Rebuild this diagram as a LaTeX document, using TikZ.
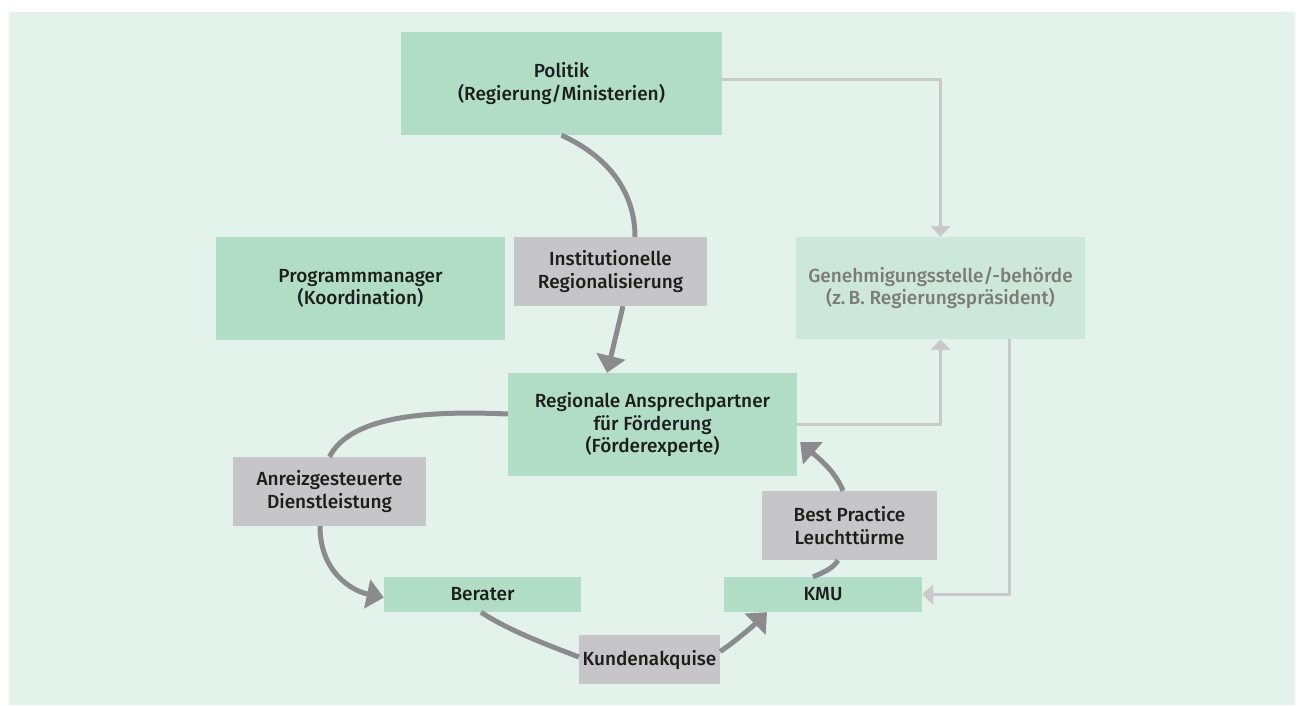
\documentclass[tikz,border=0pt]{standalone}
\usepackage{fontspec}
\setmainfont{Fira Sans}[UprightFont=* Medium]
\usetikzlibrary{arrows.meta}
\definecolor{panelc}{HTML}{E4F2EC}
\definecolor{greenc}{HTML}{B1DDC7}
\definecolor{palec}{HTML}{CDE7DA}
\definecolor{greyc}{HTML}{C6C6C8}
\definecolor{flowc}{HTML}{8B8B8D}
\definecolor{lightc}{HTML}{C9C9CC}
\definecolor{textc}{HTML}{1D1D1B}
\definecolor{paletext}{HTML}{7B7B7B}
\tikzset{
  box/.style={rectangle, inner sep=0pt, align=center, text=textc,
    font=\fontsize{19}{22.7}\selectfont},
  gbox/.style={box, fill=greenc},
  pbox/.style={box, fill=palec, text=paletext},
  ybox/.style={box, fill=greyc},
  flow/.style={draw=flowc, line width=5pt},
  flowarrow/.style={flow, -{Triangle[length=17pt,width=29pt]}},
  light/.style={draw=lightc, line width=3pt, -{Triangle[length=11pt,width=20pt]}}
}
\begin{document}
\begin{tikzpicture}[x=1pt,y=-1pt]
\useasboundingbox (0,0) rectangle (1299,705);
\fill[white] (0,0) rectangle (1299,705);
\fill[panelc] (9,12) rectangle (1295,705);

\node[gbox, minimum width=321pt, minimum height=103pt] (pol) at (561.5,83.5) {Politik\\(Regierung/Ministerien)};
\node[gbox, minimum width=289pt, minimum height=103pt] (prog) at (360.5,288.5) {Programmmanager\\(Koordination)};
\node[ybox, minimum width=193pt, minimum height=69pt] (inst) at (610.5,271.5) {Institutionelle\\Regionalisierung};
\node[pbox, minimum width=289pt, minimum height=102pt] (gen) at (940.5,288) {Genehmigungsstelle/-behörde\\(z.\,B. Regierungspräsident)};
\node[gbox, minimum width=289pt, minimum height=103pt] (reg) at (652.5,424.5) {Regionale Ansprechpartner\\für Förderung\\(Förderexperte)};
\node[ybox, minimum width=193pt, minimum height=69pt] (anr) at (329.5,491.5) {Anreizgesteuerte\\Dienstleistung};
\node[ybox, minimum width=175pt, minimum height=69pt] (bp) at (849.5,525.5) {Best Practice\\Leuchttürme};
\node[gbox, minimum width=197pt, minimum height=35pt] (ber) at (482.5,594.5) {Berater};
\node[gbox, minimum width=198pt, minimum height=35pt] (kmu) at (823,594.5) {KMU};
\node[ybox, minimum width=141pt, minimum height=49pt] (kun) at (649.5,659.5) {Kundenakquise};

\draw[light] ([yshift=4.5pt]pol.east) -| (gen.north);
\draw[light] (reg.east) -| (gen.south);
\draw[light] ([xshift=68.5pt]gen.south) |- (kmu.east);

\draw[flow] (pol.south) .. controls +(50,23) and +(0,-42) .. ([xshift=24.5pt]inst.north);
\draw[flowarrow] ([xshift=12.5pt]inst.south) -- ([xshift=-45.5pt]reg.north);
\draw[flow] ([yshift=10.5pt]reg.west) .. controls +(-88,-4) and +(20,-39) .. (anr.north);
\draw[flowarrow] ([xshift=-9.5pt]anr.south) .. controls +(0,45) and +(-33,-7) .. ([yshift=-3pt]ber.west);
\draw[flow] ([xshift=-1.5pt]ber.south) .. controls +(30,20) and +(-20,-8) .. ([yshift=2.5pt]kun.west);
\draw[flowarrow] ([yshift=8pt]kun.east) .. controls +(15,-10) and +(-12,12) .. ([xshift=-56pt]kmu.south);
\draw[flow] ([xshift=-10pt]kmu.north) .. controls +(12,-5) and +(-5,8) .. ([xshift=-11.5pt]bp.south);
\draw[flowarrow] ([xshift=-6.5pt]bp.north) .. controls +(-8,-20) and +(18,16) .. ([xshift=3pt,yshift=-17.5pt]reg.east);
\end{tikzpicture}
\end{document}
